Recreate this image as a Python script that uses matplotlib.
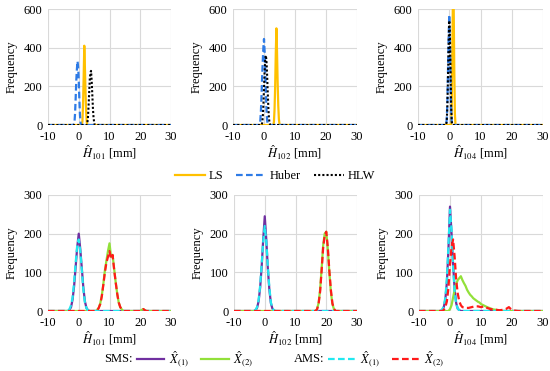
import numpy as np
import matplotlib
matplotlib.use("Agg")
import matplotlib.pyplot as plt
from matplotlib.lines import Line2D

plt.rcParams['font.family'] = ['Liberation Serif', 'DejaVu Serif']
plt.rcParams['mathtext.fontset'] = 'stix'
plt.rcParams['axes.unicode_minus'] = False

# ---------------- data ----------------
x_ticks = [-10, 0, 10, 20, 30]
top_yticks = [0, 200, 400, 600]
bot_yticks = [0, 100, 200, 300]
top_xlabels = [r'$\hat{H}_{101}$ [mm]', r'$\hat{H}_{102}$ [mm]', r'$\hat{H}_{104}$ [mm]']

# Top row: LS, Huber, HLW
p1_ls_x = [1.0, 1.2, 1.4, 1.6, 1.8, 2.0, 2.2, 2.4, 2.6, 2.8]
p1_ls_y = [0, 20, 110, 250, 410, 300, 170, 70, 15, 0]
p1_hub_x = [-1.8, -1.4, -1.2, -1.0, -0.8, -0.6, -0.4, -0.2, 0.0, 0.2, 0.4, 0.6, 0.8]
p1_hub_y = [0, 10, 60, 140, 230, 290, 330, 300, 230, 130, 50, 10, 0]
p1_hlw_x = [2.6, 2.8, 3.0, 3.2, 3.4, 3.6, 3.8, 4.0, 4.2, 4.4, 4.6, 4.8, 5.0, 5.2]
p1_hlw_y = [0, 10, 40, 100, 170, 240, 270, 280, 230, 160, 90, 40, 15, 0]

p2_ls_x = [3.0, 3.2, 3.4, 3.6, 3.8, 4.0, 4.2, 4.4, 4.6, 4.8, 5.0, 5.2]
p2_ls_y = [0, 15, 80, 200, 370, 500, 380, 220, 100, 30, 5, 0]
p2_hub_x = [-1.4, -1.2, -1.0, -0.8, -0.6, -0.4, -0.2, 0.0, 0.2, 0.4, 0.6, 0.8, 1.0, 1.2, 1.4]
p2_hub_y = [0, 20, 70, 150, 250, 330, 400, 445, 380, 280, 170, 80, 25, 5, 0]
p2_hlw_x = [-0.8, -0.6, -0.4, -0.2, 0.0, 0.2, 0.4, 0.6, 0.8, 1.0, 1.2, 1.4, 1.6, 1.8, 2.0]
p2_hlw_y = [0, 10, 40, 100, 190, 280, 340, 360, 330, 260, 170, 90, 35, 10, 0]

p3_ls_x = [0.6, 0.8, 1.0, 1.2, 1.4, 1.6, 1.8, 2.0]
p3_ls_y = [0, 100, 400, 700, 650, 300, 60, 0]
p3_hub_x = [-1.0, -0.8, -0.6, -0.4, -0.2, 0.0, 0.2, 0.4, 0.6, 0.8, 1.0]
p3_hub_y = [0, 30, 120, 280, 450, 570, 450, 250, 80, 10, 0]
p3_hlw_x = [-1.0, -0.8, -0.6, -0.4, -0.2, 0.0, 0.2, 0.4, 0.6, 0.8, 1.0]
p3_hlw_y = [0, 20, 100, 250, 420, 540, 480, 290, 100, 20, 0]

# Bottom row: SMS X(1), SMS X(2), AMS X(1), AMS X(2)
p4_s1_x = [-3.5, -3, -2.5, -2, -1.5, -1, -0.5, 0, 0.5, 1, 1.5, 2, 2.5, 3, 3.5]
p4_s1_y = [0, 3, 10, 30, 65, 115, 165, 200, 160, 110, 60, 25, 8, 2, 0]
p4_a1_x = [-3.5, -3, -2.5, -2, -1.5, -1, -0.5, 0, 0.5, 1, 1.5, 2, 2.5, 3, 3.5]
p4_a1_y = [0, 5, 15, 35, 75, 125, 170, 185, 155, 105, 55, 22, 7, 2, 0]
p4_s2_x = [5.5, 6, 6.5, 7, 7.5, 8, 8.5, 9, 9.5, 10, 10.5, 11, 11.5, 12, 12.5, 13, 13.5, 14, 14.5,
           20, 20.5, 21, 21.5, 22]
p4_s2_y = [0, 3, 8, 20, 40, 70, 105, 130, 155, 175, 140, 145, 110, 75, 45, 22, 10, 4, 0,
           0, 3, 5, 2, 0]
p4_a2_x = [5.5, 6, 6.5, 7, 7.5, 8, 8.5, 9, 9.5, 10, 10.5, 11, 11.5, 12, 12.5, 13, 13.5, 14, 14.5,
           20, 20.5, 21, 21.5, 22]
p4_a2_y = [0, 2, 8, 18, 38, 68, 100, 125, 140, 155, 135, 145, 108, 75, 45, 22, 10, 4, 0,
           0, 3, 5, 2, 0]

p5_s1_x = [-3.5, -3, -2.5, -2, -1.5, -1, -0.5, 0, 0.5, 1, 1.5, 2, 2.5, 3, 3.5]
p5_s1_y = [0, 2, 8, 25, 60, 115, 185, 245, 185, 110, 55, 20, 6, 1, 0]
p5_a1_x = [-3.5, -3, -2.5, -2, -1.5, -1, -0.5, 0, 0.5, 1, 1.5, 2, 2.5, 3, 3.5]
p5_a1_y = [0, 3, 10, 28, 65, 120, 180, 220, 180, 115, 60, 22, 7, 2, 0]
p5_s2_x = [16.5, 17, 17.5, 18, 18.5, 19, 19.5, 20, 20.5, 21, 21.5, 22, 22.5, 23]
p5_s2_y = [0, 5, 20, 55, 110, 170, 200, 205, 160, 100, 50, 18, 5, 0]
p5_a2_x = [16.5, 17, 17.5, 18, 18.5, 19, 19.5, 20, 20.5, 21, 21.5, 22, 22.5, 23]
p5_a2_y = [0, 4, 18, 50, 105, 165, 195, 205, 165, 105, 55, 20, 6, 0]

p6_s1_x = [-3, -2.5, -2, -1.5, -1, -0.5, 0, 0.5, 1, 1.5, 2, 2.5, 3, 3.5]
p6_s1_y = [0, 3, 10, 30, 75, 160, 270, 200, 120, 55, 20, 6, 2, 0]
p6_a1_x = [-3, -2.5, -2, -1.5, -1, -0.5, 0, 0.5, 1, 1.5, 2, 2.5, 3, 3.5]
p6_a1_y = [0, 4, 12, 35, 85, 170, 262, 210, 115, 50, 18, 6, 2, 0]
p6_s2_x = [-0.5, 0, 0.5, 1, 1.5, 2, 2.5, 3, 3.5, 4, 4.5, 5, 5.5, 6, 6.5, 7, 7.5, 8, 8.5, 9, 9.5,
           10, 11, 12, 13, 14, 15, 16, 17]
p6_s2_y = [0, 5, 15, 35, 55, 70, 80, 85, 90, 80, 72, 65, 55, 48, 42, 38, 33, 30, 27, 24, 22,
           18, 14, 10, 7, 4, 3, 1, 0]
p6_a2_x = [-2.5, -2, -1.5, -1, -0.5, 0, 0.5, 1, 1.5, 2, 2.5, 3, 3.5, 4, 5, 6, 7, 8, 9, 10, 11,
           12, 13, 14, 15, 16, 17, 18, 19, 19.5, 20, 21, 22]
p6_a2_y = [0, 3, 10, 25, 60, 120, 165, 185, 140, 80, 45, 25, 15, 10, 8, 8, 10, 12, 12, 10, 12,
           8, 5, 4, 3, 2, 3, 5, 10, 6, 3, 1, 0]

top_panels = [
    [(p1_ls_x, p1_ls_y), (p1_hub_x, p1_hub_y), (p1_hlw_x, p1_hlw_y)],
    [(p2_ls_x, p2_ls_y), (p2_hub_x, p2_hub_y), (p2_hlw_x, p2_hlw_y)],
    [(p3_ls_x, p3_ls_y), (p3_hub_x, p3_hub_y), (p3_hlw_x, p3_hlw_y)],
]
bot_panels = [
    [(p4_s1_x, p4_s1_y), (p4_s2_x, p4_s2_y), (p4_a1_x, p4_a1_y), (p4_a2_x, p4_a2_y)],
    [(p5_s1_x, p5_s1_y), (p5_s2_x, p5_s2_y), (p5_a1_x, p5_a1_y), (p5_a2_x, p5_a2_y)],
    [(p6_s1_x, p6_s1_y), (p6_s2_x, p6_s2_y), (p6_a1_x, p6_a1_y), (p6_a2_x, p6_a2_y)],
]

top_styles = [
    dict(color='#FFC000', ls='-', lw=1.6, label='LS'),
    dict(color='#2E7BE6', ls=(0, (3, 1.5)), lw=1.6, label='Huber'),
    dict(color='#000000', ls=(0, (1, 1)), lw=1.5, label='HLW'),
]
bot_styles = [
    dict(color='#7030A0', ls='-', lw=1.6),
    dict(color='#92E03A', ls='-', lw=1.6),
    dict(color='#22E8F0', ls=(0, (3, 1.5)), lw=1.6),
    dict(color='#FF1A1A', ls=(0, (3, 1.5)), lw=1.6),
]


def full(xs, ys):
    return [-10] + list(xs) + [30], [0] + list(ys) + [0]


fig = plt.figure(figsize=(5.5, 3.71), dpi=100)
W, H = 550.0, 371.0
cols_top = [(48, 171), (233, 357), (418, 543)]
cols_bot = [(48, 171), (234, 357), (419, 543)]
FS = 9


def style_ax(ax, yticks, xlabel):
    ax.set_xlim(-10, 30)
    ax.set_ylim(yticks[0], yticks[-1])
    ax.set_xticks(x_ticks)
    ax.set_yticks(yticks)
    for s in ax.spines.values():
        s.set_visible(False)
    ax.grid(True, color='#D9D9D9', lw=0.8)
    ax.set_axisbelow(True)
    ax.tick_params(length=0, labelsize=FS, pad=4)
    ax.set_ylabel('Frequency', fontsize=FS, labelpad=4)
    ax.set_xlabel(xlabel, fontsize=FS, labelpad=1)


for i in range(3):
    x0, x1 = cols_top[i]
    ax = fig.add_axes([x0 / W, 1 - 125 / H, (x1 - x0) / W, 116 / H])
    style_ax(ax, top_yticks, top_xlabels[i])
    for (xs, ys), st in zip(top_panels[i], top_styles):
        fx, fy = full(xs, ys)
        ax.plot(fx, fy, **st)

for i in range(3):
    x0, x1 = cols_bot[i]
    ax = fig.add_axes([x0 / W, 1 - 311 / H, (x1 - x0) / W, 116 / H])
    style_ax(ax, bot_yticks, top_xlabels[i])
    for (xs, ys), st in zip(bot_panels[i], bot_styles):
        fx, fy = full(xs, ys)
        ax.plot(fx, fy, **st)

# Top legend
h_top = [Line2D([], [], **st) for st in top_styles]
fig.legend(handles=h_top, loc='center', bbox_to_anchor=(0.5, 1 - 176 / H), ncol=3,
           frameon=False, fontsize=FS, handlelength=2.4, columnspacing=1.0, handletextpad=0.3)

# Bottom legend
lab1 = r'$\hat{X}_{(1)}$'
lab2 = r'$\hat{X}_{(2)}$'
h_sms = [Line2D([], [], label=lab1, **bot_styles[0]), Line2D([], [], label=lab2, **bot_styles[1])]
h_ams = [Line2D([], [], label=lab1, **bot_styles[2]), Line2D([], [], label=lab2, **bot_styles[3])]
yl = 1 - 359 / H
fig.legend(handles=h_sms, loc='center', bbox_to_anchor=(195 / W, yl), ncol=2, frameon=False,
           fontsize=FS, handlelength=2.2, columnspacing=1.0, handletextpad=0.35)
fig.legend(handles=h_ams, loc='center', bbox_to_anchor=(386 / W, yl), ncol=2, frameon=False,
           fontsize=FS, handlelength=2.2, columnspacing=1.0, handletextpad=0.35)
fig.text(133 / W, yl, 'SMS:', ha='right', va='center', fontsize=FS)
fig.text(324 / W, yl, 'AMS:', ha='right', va='center', fontsize=FS)

fig.savefig('out.png', dpi=100)
